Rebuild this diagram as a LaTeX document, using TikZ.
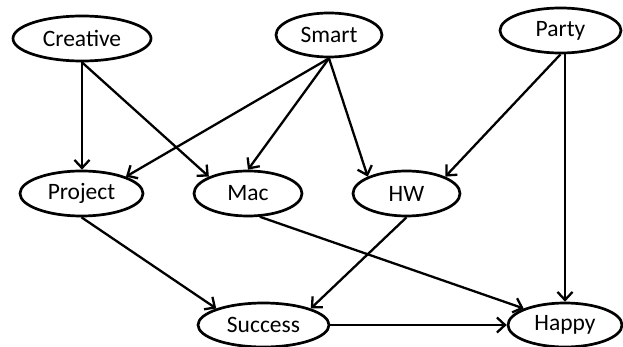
\documentclass[tikz,border=0pt]{standalone}
\usepackage{fontspec}
\setmainfont{Carlito}
\usetikzlibrary{shapes.geometric,arrows.meta}
\tikzset{
  var/.style={ellipse, draw, line width=2.7pt, inner sep=0pt, minimum height=45pt, font=\fontsize{23.5}{25}\selectfont},
  edge/.style={line width=2.3pt, -{Straight Barb[length=8pt,width=15pt,line width=2.3pt]}}
}
\begin{document}
\begin{tikzpicture}[x=1pt,y=-1pt]
\useasboundingbox (0,0) rectangle (623,347);
\node[var, minimum width=138pt] (creative) at (82,38.5) {Creative};
\node[var, minimum width=106pt, minimum height=44pt] (smart) at (329,35) {Smart};
\node[var, minimum width=121pt] (party) at (560.5,30.5) {Party};
\node[var, minimum width=123pt] (project) at (81.5,193.5) {Project};
\node[var, minimum width=108pt] (mac) at (248,193.5) {Mac};
\node[var, minimum width=107pt] (hw) at (406.5,193.5) {HW};
\node[var, minimum width=131pt, minimum height=44pt] (success) at (263.5,325) {Success};
\node[var, minimum width=114pt, minimum height=44pt] (happy) at (565,325) {Happy};
\draw[edge] (creative.south) -- (creative.south |- project.north);
\draw[edge] (creative.south) -- (mac.north west);
\draw[edge] (smart.south) -- (project.north east);
\draw[edge] (smart.south) -- (mac.north);
\draw[edge] (smart.south) -- (hw.north west);
\draw[edge] (party.south) -- (hw.north east);
\draw[edge] (party.south -| happy.north) -- (happy.north);
\draw[edge] (project.south) -- (success.north west);
\draw[edge] (mac.-63) -- (happy.north west);
\draw[edge] (hw.south) -- (success.north east);
\draw[edge] (success.east) -- (happy.west);
\end{tikzpicture}
\end{document}
